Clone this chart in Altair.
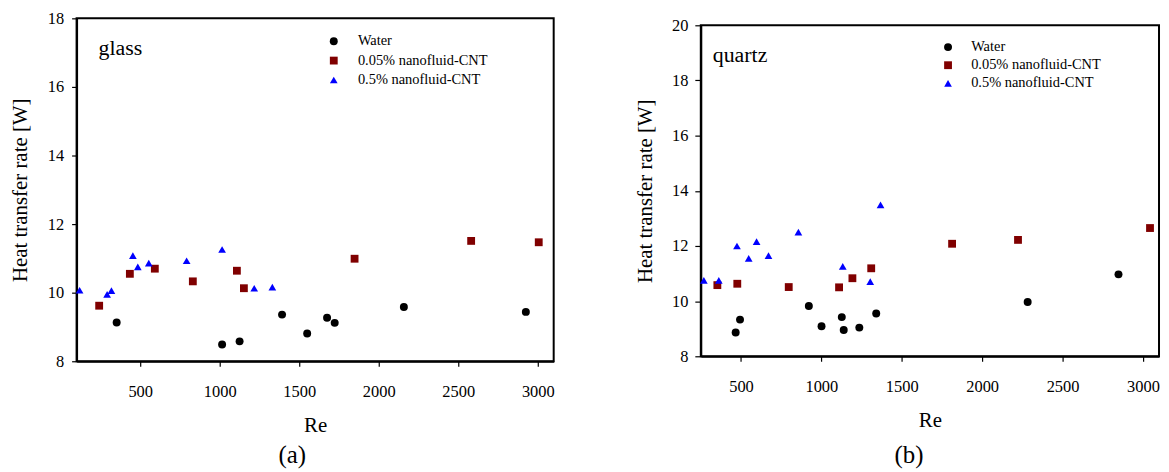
import altair as alt
import pandas as pd

series = ["Water", "0.05% nanofluid-CNT", "0.5% nanofluid-CNT"]
colors = ["#000000", "#800000", "#0000ff"]
shapes = ["circle", "square", "triangle-up"]
sizes = [64, 60, 95]
panel_names = ["glass", "quartz"]
panel_tags = ["(a)", "(b)"]

# glass panel
glass_water_re = [352, 1015, 1125, 1392, 1550, 1675, 1723, 2158, 2925]
glass_water_q = [9.13, 8.49, 8.58, 9.36, 8.81, 9.27, 9.12, 9.58, 9.44]
glass_c005_re = [242, 435, 592, 831, 1108, 1152, 1848, 2581, 3006]
glass_c005_q = [9.62, 10.55, 10.70, 10.33, 10.64, 10.13, 10.99, 11.51, 11.47]
glass_c05_re = [119, 292, 319, 454, 485, 554, 792, 1015, 1217, 1331]
glass_c05_q = [10.07, 9.95, 10.06, 11.08, 10.75, 10.86, 10.93, 11.26, 10.13, 10.16]

# quartz panel
quartz_water_re = [467, 494, 922, 1001, 1127, 1139, 1236, 1341, 2283, 2848]
quartz_water_q = [8.86, 9.33, 9.82, 9.09, 9.42, 8.95, 9.04, 9.55, 9.97, 10.97]
quartz_c005_re = [353, 477, 797, 1110, 1193, 1310, 1813, 2223, 3044]
quartz_c005_q = [10.58, 10.63, 10.51, 10.50, 10.83, 11.19, 12.08, 12.22, 12.65]
quartz_c05_re = [269, 362, 475, 548, 597, 671, 857, 1133, 1304, 1368]
quartz_c05_q = [10.75, 10.75, 12.00, 11.55, 12.16, 11.65, 12.50, 11.26, 10.71, 13.49]

x_ticks = [500, 1000, 1500, 2000, 2500, 3000]
glass_y_ticks = [8, 10, 12, 14, 16, 18]
quartz_y_ticks = [8, 10, 12, 14, 16, 18, 20]

FONT = "Liberation Serif"


def frame(res, qs):
    rows = []
    for name, re_list, q_list in zip(series, res, qs):
        for r, q in zip(re_list, q_list):
            rows.append({"series": name, "Re": r, "Q": q})
    return pd.DataFrame(rows)


glass_df = frame([glass_water_re, glass_c005_re, glass_c05_re],
                 [glass_water_q, glass_c005_q, glass_c05_q])
quartz_df = frame([quartz_water_re, quartz_c005_re, quartz_c05_re],
                  [quartz_water_q, quartz_c005_q, quartz_c05_q])


def panel(df, xdom, ydom, yticks, w, h, name, tag, leg_x, leg_y, row_pad, lab_off,
          ytick, ylabpad, ytitlepad, tag_offset, tag_dx, name_x, name_y):
    legend = alt.Legend(orient="none", legendX=leg_x, legendY=leg_y, title=None,
                        labelFont=FONT, labelFontSize=14.5, labelColor="black",
                        symbolSize=60, symbolStrokeWidth=0, rowPadding=row_pad,
                        labelOffset=lab_off, padding=0)
    xax = alt.Axis(values=x_ticks, format="d", title="Re", grid=False,
                   domainColor="black", domainWidth=2, tickColor="black",
                   tickWidth=1.2, tickSize=5, labelFont=FONT, labelFontSize=16.5,
                   labelColor="black", labelPadding=17, titleFont=FONT,
                   titleFontSize=21, titleFontWeight="normal", titleColor="black",
                   titlePadding=15, labelFlush=False)
    yax = alt.Axis(values=yticks, title="Heat transfer rate [W]", grid=False,
                   domainColor="black", domainWidth=2, tickColor="black",
                   tickWidth=1.2, tickSize=ytick, labelFont=FONT, labelFontSize=16.5,
                   labelColor="black", labelPadding=ylabpad, titleFont=FONT,
                   titleFontSize=21, titleFontWeight="normal", titleColor="black",
                   titlePadding=ytitlepad)
    pts = alt.Chart(df).mark_point(filled=True, opacity=1).encode(
        x=alt.X("Re:Q", scale=alt.Scale(domain=xdom, nice=False, zero=False), axis=xax),
        y=alt.Y("Q:Q", scale=alt.Scale(domain=ydom, nice=False, zero=False), axis=yax),
        color=alt.Color("series:N", scale=alt.Scale(domain=series, range=colors), legend=legend),
        shape=alt.Shape("series:N", scale=alt.Scale(domain=series, range=shapes), legend=legend),
        size=alt.Size("series:N", scale=alt.Scale(domain=series, range=sizes), legend=None),
    )
    lab = alt.Chart(pd.DataFrame({"t": [name]})).mark_text(
        font=FONT, fontSize=22, align="left", baseline="alphabetic", color="black"
    ).encode(text="t:N", x=alt.value(name_x), y=alt.value(name_y))
    return alt.layer(pts, lab).properties(
        width=w, height=h,
        view=alt.ViewBackground(stroke="black", strokeWidth=2),
        title=alt.TitleParams(tag, orient="bottom", font=FONT, fontSize=25,
                              fontWeight="normal", color="black", offset=tag_offset,
                              dx=tag_dx, anchor="middle", frame="group"),
    )


def spacer(h):
    return alt.Chart(pd.DataFrame({"t": [0]})).mark_rule(color="white", strokeWidth=0.5).encode(
        x=alt.value(0), x2=alt.value(1), y=alt.value(0), y2=alt.value(0)
    ).properties(width=1, height=h, view=alt.ViewBackground(stroke="transparent"))


left = panel(glass_df, [100, 3100], [8, 18], glass_y_ticks, 480, 345, panel_names[0],
             panel_tags[0], 251.5, 26.75, 4.5, 17, 5, 8, 17, 8, -23, 22, 36.5)
right = panel(quartz_df, [250, 3100], [8, 20], quartz_y_ticks, 461, 333, panel_names[1],
              panel_tags[1], 241.5, 32.7, 3.2, 16, 6, 7, 16, 13, -21, 12, 37)

left_col = alt.vconcat(spacer(1), left, spacing=0)
right_col = alt.vconcat(spacer(8), right, spacing=0)

chart = alt.hconcat(left_col, right_col, spacing=78).resolve_scale(
    color="independent", shape="independent", size="independent",
    x="independent", y="independent"
).properties(padding={"left": 0, "top": -3, "right": 0, "bottom": 0})

chart.save("out.html", embed_options={"renderer": "svg", "actions": False})
